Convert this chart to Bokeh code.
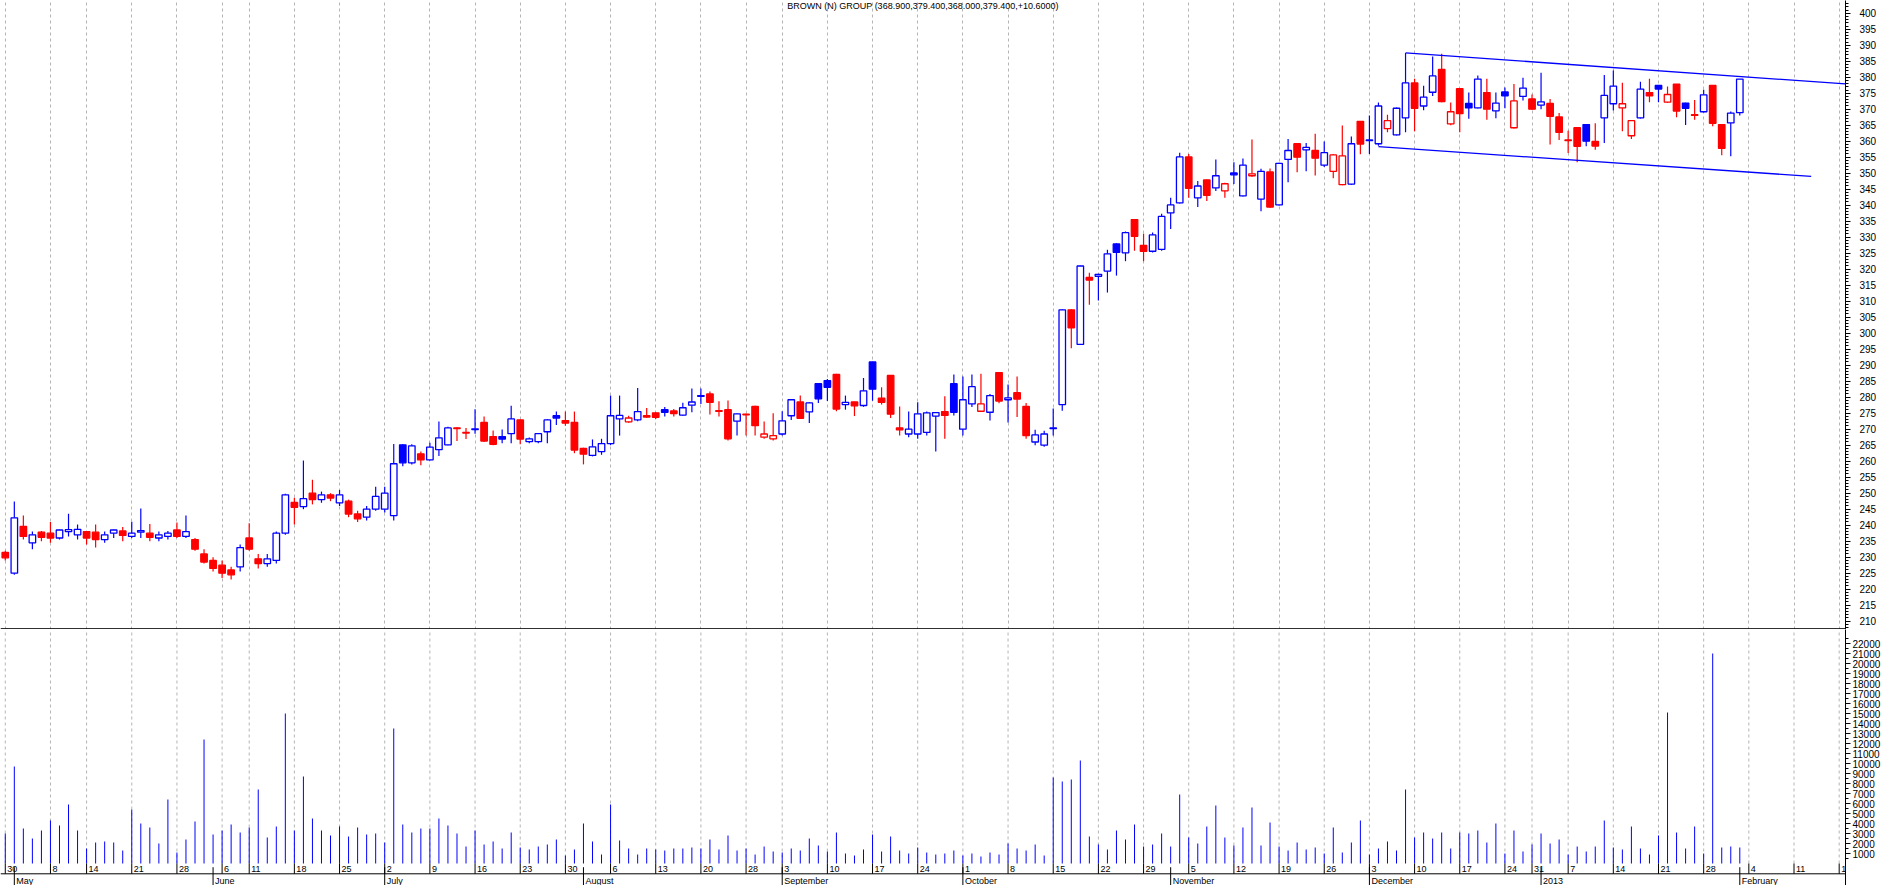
import pandas as pd
from bokeh.plotting import figure
from bokeh.layouts import column
from bokeh.models import Range1d, FixedTicker, Span, Label, ColumnDataSource
from bokeh.core.properties import value
from bokeh.embed import file_html
from bokeh.resources import INLINE

TITLE = "BROWN (N) GROUP (368.900,379.400,368.000,379.400,+10.6000)"

FIRST_DAY = "2012-04-30"
AXIS_LAST_DAY = "2013-02-18"
HOLIDAYS = ["2012-05-07", "2012-06-04", "2012-06-05", "2012-08-27",
            "2012-12-25", "2012-12-26", "2013-01-01"]

PRIOR_CLOSE = 231.0

opens = [231.5, 225.0, 239.6, 234.5, 237.8, 237.5, 236.0, 238.0, 237.0, 238.0,
         237.8, 235.5, 237.5, 238.2, 236.5, 237.8, 237.5, 236.0, 236.5, 238.5,
         236.5, 235.5, 231.0, 229.0, 227.5, 226.0, 227.0, 236.0, 229.5, 228.0,
         229.0, 237.5, 247.1, 245.8, 250.0, 248.0, 249.5, 247.0, 247.5, 243.5,
         242.5, 245.0, 245.0, 243.0, 265.1, 259.5, 262.3, 260.4, 263.6, 265.1,
         270.4, 269.0, 269.9, 272.1, 267.7, 267.7, 268.6, 272.9, 266.1, 266.1,
         269.2, 274.2, 272.7, 272.1, 264.0, 261.8, 263.0, 265.5, 273.2, 272.3,
         272.9, 274.2, 275.1, 276.1, 275.7, 274.4, 277.5, 280.3, 281.0, 275.8,
         276.1, 272.5, 274.7, 277.1, 267.5, 267.0, 268.5, 274.2, 278.5, 275.4,
         284.2, 285.2, 287.1, 277.7, 278.5, 277.4, 291.0, 279.7, 286.8, 270.4,
         268.5, 268.5, 269.0, 274.1, 275.5, 284.2, 270.0, 277.9, 275.6, 275.3,
         287.7, 279.2, 281.4, 277.1, 266.0, 265.0, 270.2, 277.7, 307.3, 296.5,
         317.4, 317.8, 319.4, 327.9, 325.1, 335.5, 327.4, 325.6, 326.2, 337.6,
         340.7, 355.1, 342.3, 347.9, 345.4, 344.5, 350.1, 342.9, 349.2, 341.9,
         350.4, 340.1, 354.3, 359.2, 357.3, 357.1, 352.5, 350.6, 346.4, 346.6,
         366.2, 360.2, 359.2, 363.9, 362.0, 367.3, 378.2, 371.0, 375.3, 382.4,
         365.4, 376.4, 371.8, 370.4, 375.2, 369.5, 375.4, 364.2, 374.0, 373.2,
         371.3, 371.8, 367.6, 360.4, 364.2, 365.2, 359.9, 367.3, 371.7, 370.4,
         361.7, 367.3, 375.2, 377.4, 372.2, 377.8, 371.9, 368.3, 369.2, 377.4,
         365.2, 365.7, 368.9]

highs = [232.0, 247.4, 243.0, 238.0, 238.2, 241.0, 238.6, 243.6, 240.2, 238.2,
         240.2, 238.0, 238.6, 239.4, 241.1, 245.2, 240.4, 238.0, 238.2, 240.8,
         243.0, 236.0, 232.5, 230.0, 229.0, 227.0, 234.0, 240.6, 231.0, 231.0,
         238.0, 249.8, 248.6, 260.2, 254.2, 250.5, 250.0, 251.0, 248.0, 244.5,
         246.0, 252.0, 252.0, 265.4, 265.3, 265.3, 263.0, 265.8, 272.4, 270.8,
         270.6, 270.4, 276.2, 274.0, 269.6, 269.9, 277.3, 273.0, 267.4, 268.8,
         273.1, 275.5, 275.5, 275.5, 264.2, 266.8, 267.0, 280.5, 280.5, 274.2,
         282.9, 276.6, 275.3, 276.9, 276.3, 278.3, 282.7, 282.7, 281.8, 278.7,
         279.0, 274.9, 274.8, 277.3, 272.4, 275.0, 275.6, 279.4, 280.5, 278.4,
         284.3, 285.7, 287.3, 280.5, 278.6, 286.0, 291.1, 283.1, 286.9, 277.1,
         275.5, 278.4, 275.5, 275.3, 280.3, 287.1, 286.5, 287.1, 287.3, 281.0,
         287.8, 284.0, 286.5, 278.2, 269.8, 269.5, 276.5, 307.5, 307.5, 321.1,
         318.9, 318.6, 326.1, 328.1, 331.8, 335.6, 331.1, 331.5, 337.3, 342.3,
         356.4, 356.0, 347.6, 348.0, 354.3, 347.0, 353.4, 354.6, 360.5, 351.4,
         351.5, 353.3, 360.7, 359.4, 359.4, 362.3, 359.9, 355.9, 364.9, 361.5,
         366.3, 368.0, 372.1, 368.3, 370.5, 387.6, 379.5, 377.3, 386.5, 387.3,
         372.1, 376.5, 375.2, 380.5, 379.5, 375.2, 376.8, 377.9, 379.8, 374.6,
         381.4, 373.2, 368.8, 363.3, 364.3, 365.3, 365.6, 380.7, 382.1, 378.3,
         366.6, 378.6, 379.5, 377.5, 377.1, 377.9, 372.0, 372.9, 376.1, 377.5,
         365.3, 369.3, 379.4]

lows = [229.0, 224.5, 235.5, 232.5, 235.0, 234.5, 235.5, 236.5, 235.5, 234.0,
        233.0, 234.5, 236.0, 235.0, 236.0, 236.0, 235.0, 235.0, 235.5, 236.0,
        236.0, 232.0, 228.0, 225.5, 223.5, 223.0, 225.5, 232.0, 226.5, 227.0,
        228.0, 237.0, 240.2, 245.0, 246.5, 247.0, 247.5, 246.0, 242.5, 241.0,
        241.5, 244.5, 244.0, 241.5, 258.4, 259.0, 258.7, 260.2, 261.6, 265.0,
        266.3, 266.9, 268.6, 266.0, 265.0, 265.6, 265.6, 265.3, 265.6, 265.6,
        265.6, 271.3, 271.1, 262.5, 259.0, 261.5, 262.0, 265.0, 268.0, 272.0,
        272.5, 273.6, 273.2, 274.0, 274.0, 274.2, 275.3, 277.9, 274.6, 274.0,
        266.5, 268.0, 268.0, 268.0, 267.0, 266.5, 268.0, 272.9, 273.3, 271.9,
        278.2, 278.8, 275.6, 276.1, 274.1, 277.0, 278.9, 277.7, 273.5, 268.0,
        267.5, 267.0, 268.0, 263.0, 267.0, 274.3, 268.0, 276.9, 275.4, 272.7,
        278.1, 272.1, 273.8, 267.0, 265.0, 264.5, 268.0, 275.8, 295.3, 296.3,
        308.9, 310.2, 312.7, 318.0, 322.5, 325.8, 322.5, 325.2, 325.8, 332.6,
        340.5, 342.3, 339.4, 341.3, 344.4, 342.3, 346.6, 342.7, 348.9, 338.1,
        339.2, 339.9, 347.2, 350.3, 350.6, 349.3, 351.9, 348.4, 346.2, 346.4,
        355.9, 356.0, 358.6, 362.8, 361.8, 362.8, 363.1, 369.7, 374.1, 372.2,
        365.0, 362.8, 367.0, 370.2, 366.7, 367.2, 370.3, 364.0, 372.7, 369.8,
        370.0, 359.0, 360.4, 356.3, 353.4, 358.4, 357.3, 359.4, 369.6, 363.1,
        360.7, 367.1, 372.2, 372.2, 371.9, 367.5, 365.1, 366.7, 369.0, 364.7,
        355.6, 355.3, 368.0]

closes = [229.8, 242.3, 236.5, 237.0, 236.2, 236.0, 238.5, 238.6, 238.7, 236.0,
          235.5, 237.0, 238.5, 236.8, 237.5, 238.3, 236.2, 237.0, 237.5, 236.5,
          238.0, 232.5, 228.5, 226.5, 225.0, 224.5, 233.0, 232.5, 228.0, 229.5,
          237.5, 249.5, 245.6, 248.3, 248.0, 249.5, 248.5, 249.5, 243.5, 242.0,
          245.0, 249.0, 250.0, 259.2, 259.5, 264.8, 260.4, 264.4, 267.3, 270.4,
          270.2, 268.8, 270.1, 266.3, 265.3, 266.9, 273.2, 266.9, 267.0, 268.6,
          272.9, 273.5, 271.9, 263.5, 262.2, 264.5, 265.5, 274.2, 274.3, 273.5,
          275.5, 273.8, 273.7, 275.3, 274.9, 276.7, 278.5, 280.5, 278.4, 275.6,
          267.0, 274.8, 274.5, 271.1, 268.5, 268.0, 272.6, 279.2, 273.4, 278.2,
          279.5, 283.1, 276.3, 278.4, 277.3, 282.0, 282.5, 278.4, 274.7, 269.8,
          270.0, 274.8, 275.1, 275.2, 274.3, 275.3, 279.2, 283.3, 277.9, 280.5,
          278.8, 279.8, 279.4, 268.0, 268.2, 268.5, 270.4, 307.3, 301.7, 321.0,
          316.6, 318.4, 324.8, 325.3, 331.4, 330.3, 325.6, 330.7, 336.5, 340.1,
          355.1, 345.3, 346.0, 343.1, 349.2, 346.7, 349.5, 352.5, 349.8, 350.6,
          339.4, 353.1, 357.1, 355.0, 358.1, 354.7, 356.4, 355.7, 355.4, 359.2,
          359.1, 360.4, 371.0, 366.4, 370.3, 378.2, 370.3, 373.8, 380.4, 372.4,
          369.2, 368.6, 370.4, 379.4, 370.0, 371.9, 374.2, 372.6, 376.6, 370.0,
          372.3, 367.8, 362.8, 360.2, 358.4, 360.0, 358.5, 374.3, 377.2, 371.7,
          366.4, 376.3, 374.2, 376.3, 374.6, 369.4, 370.3, 368.1, 374.5, 365.6,
          357.8, 368.8, 379.4]

volumes = [3000, 9700, 3500, 2500, 3300, 4300, 3800, 5900, 3300, 1500,
           2100, 2200, 2100, 1300, 5400, 4000, 3600, 2000, 6400, 1100,
           2400, 4200, 12400, 2900, 3300, 3900, 3100, 3600, 7400, 2600,
           3700, 15000, 3300, 8700, 4500, 3300, 2800, 3700, 2700, 3600,
           2900, 3000, 2100, 13500, 3900, 3100, 3500, 3500, 4500, 3800,
           3000, 1700, 3300, 1900, 2200, 1500, 3100, 1600, 1400, 1700,
           1900, 2400, 800, 1400, 4000, 2200, 900, 5900, 2300, 1500,
           900, 1500, 1400, 1300, 1500, 1500, 1600, 1500, 2400, 1400,
           2800, 1300, 1500, 900, 1700, 1200, 1100, 1500, 1300, 2500,
           1800, 1200, 3100, 1000, 800, 1400, 2900, 1200, 2700, 1300,
           1000, 1600, 1100, 900, 1000, 1300, 800, 1000, 700, 1100,
           900, 2000, 1500, 1300, 1900, 800, 8600, 8200, 8400, 10300,
           2700, 1900, 1400, 3300, 2400, 3900, 1700, 1900, 3000, 1700,
           6900, 2600, 2000, 3700, 5800, 2600, 1800, 3600, 5600, 1800,
           4100, 1700, 1300, 2100, 1400, 1600, 1000, 3600, 1100, 2100,
           4300, 900, 1500, 2200, 1300, 7400, 2600, 3100, 2500, 3100,
           1500, 3100, 3000, 3300, 2100, 4000, 1000, 3300, 1200, 1900,
           3000, 2000, 2400, 900, 1700, 1200, 1700, 4300, 1600, 1400,
           3700, 1500, 900, 2800, 15100, 3100, 1500, 3700, 1000, 21000,
           1600, 1700, 1600]

# trend channel drawn on the chart (bar index, price)
upper_channel_x = [155, 203.7]
upper_channel_y = [387.6, 377.9]
lower_channel_x = [152, 199.9]
lower_channel_y = [358.3, 349.0]

price_ticks = list(range(210, 401, 5))
price_minor_ticks = list(range(208, 404))
volume_ticks = list(range(1000, 22001, 1000))
volume_minor_ticks = list(range(500, 22501, 500))

MONTH_NAMES = {1: "January", 2: "February", 3: "March", 4: "April", 5: "May", 6: "June",
               7: "July", 8: "August", 9: "September", 10: "October",
               11: "November", 12: "December"}

# ---------------------------------------------------------------- derived
days = pd.bdate_range(FIRST_DAY, AXIS_LAST_DAY)
days = days[~days.isin(pd.to_datetime(HOLIDAYS))]
n = len(opens)
idx = list(range(n))

week_idx, week_lab = [], []
for i, d in enumerate(days):
    wk = d - pd.Timedelta(days=d.weekday())
    if i == 0 or wk != days[i - 1] - pd.Timedelta(days=days[i - 1].weekday()):
        week_idx.append(i)
        week_lab.append(str(d.day))

month_idx, month_lab = [], []
for i in range(1, len(days)):
    if days[i].month != days[i - 1].month:
        month_idx.append(i)
        d = days[i]
        month_lab.append(str(d.year) if d.month == 1 else MONTH_NAMES[d.month])

UP = "#0000FF"
DOWN = "#FF0000"
prev = [PRIOR_CLOSE] + closes[:-1]
colors = [UP if c >= pc else DOWN for c, pc in zip(closes, prev)]
fills = ["white" if c >= o else col for o, c, col in zip(opens, closes, colors)]
src = ColumnDataSource(dict(
    x=idx, o=opens, h=highs, l=lows, c=closes,
    top=[max(o, c) for o, c in zip(opens, closes)],
    bot=[min(o, c) for o, c in zip(opens, closes)],
    col=colors, fill=fills, vol=volumes, zero=[0] * n))

FONT = "Liberation Sans"
FW = 1845
X0, X1 = -0.53, 203.7
xr = Range1d(X0, X1)
P_LO, P_HI = 207.4, 403.97
V_LO, V_HI = -2200, 23400
GRID = "#b4b4b4"


def style_axis(ax, standoff):
    ax.axis_line_color = "black"
    ax.major_tick_out = 5
    ax.major_tick_in = 0
    ax.minor_tick_out = 3
    ax.minor_tick_in = 0
    ax.major_tick_line_color = "black"
    ax.minor_tick_line_color = "black"
    ax.major_label_text_font = FONT
    ax.major_label_text_font_size = "10px"
    ax.major_label_text_color = "black"
    ax.major_label_standoff = standoff


# ---------------------------------------------------------------- price panel
p = figure(frame_width=FW, frame_height=629, x_range=xr, y_range=Range1d(P_LO, P_HI),
           output_backend="svg", toolbar_location=None, tools="",
           x_axis_location=None, y_axis_location="right",
           min_border_left=0, min_border_top=0, min_border_bottom=0, min_border_right=0)
p.outline_line_color = None
p.background_fill_color = "white"
p.border_fill_color = "white"
p.ygrid.visible = False
p.xgrid.ticker = FixedTicker(ticks=week_idx)
p.xgrid.grid_line_color = GRID
p.xgrid.grid_line_dash = "3 3"
p.yaxis.ticker = FixedTicker(ticks=price_ticks, minor_ticks=price_minor_ticks)
style_axis(p.yaxis[0], 9)

p.segment(x0="x", y0="l", x1="x", y1="h", color="col", line_width=1.2, source=src)
p.vbar(x="x", width=0.72, top="top", bottom="bot", fill_color="fill",
       line_color="col", line_width=1.3, source=src)
p.line(upper_channel_x, upper_channel_y, color=UP, line_width=1.3)
p.line(lower_channel_x, lower_channel_y, color=UP, line_width=1.3)
p.add_layout(Span(location=P_LO + 0.25, dimension="width", line_color="black", line_width=1))
p.add_layout(Label(x=(X0 + X1) / 2, y=P_HI - 0.2, text=TITLE, text_align="center",
                   text_baseline="top", text_font=FONT, text_font_size="9px",
                   text_color="black"))

# ---------------------------------------------------------------- volume panel
v = figure(frame_width=FW, frame_height=256, x_range=xr, y_range=Range1d(V_LO, V_HI),
           output_backend="svg", toolbar_location=None, tools="",
           x_axis_location=None, y_axis_location="right",
           min_border_left=0, min_border_top=0, min_border_bottom=0, min_border_right=0)
v.outline_line_color = None
v.background_fill_color = "white"
v.border_fill_color = "white"
v.xgrid.visible = False
v.ygrid.visible = False
v.yaxis.ticker = FixedTicker(ticks=volume_ticks, minor_ticks=volume_minor_ticks)
style_axis(v.yaxis[0], 2)

v.segment(x0=week_idx, y0=[0] * len(week_idx), x1=week_idx, y1=[V_HI] * len(week_idx),
          line_color=GRID, line_dash="3 3", line_width=1)
v.segment(x0="x", y0="zero", x1="x", y1="vol", color=UP, line_width=1, source=src)

# date rows: day numbers of week starts, then month names
DAY_ROW_BOTTOM = -1030
v.add_layout(Span(location=DAY_ROW_BOTTOM, dimension="width", line_color="black", line_width=1))
v.segment(x0=week_idx, y0=[0] * len(week_idx), x1=week_idx,
          y1=[DAY_ROW_BOTTOM] * len(week_idx), line_color="black", line_width=1)
v.text(x=week_idx, y=[-560] * len(week_idx), text=week_lab, x_offset=2,
       text_align="left", text_baseline="middle", text_font=value(FONT),
       text_font_size="9px", text_color="black")
v.segment(x0=month_idx, y0=[-370] * len(month_idx), x1=month_idx,
          y1=[V_LO] * len(month_idx), line_color="black", line_width=1)
v.text(x=month_idx, y=[-1700] * len(month_idx), text=month_lab, x_offset=2,
       text_align="left", text_baseline="middle", text_font=value(FONT),
       text_font_size="9px", text_color="black")

layout = column(p, v, spacing=0)
open("out.html", "w").write(file_html(layout, INLINE))
